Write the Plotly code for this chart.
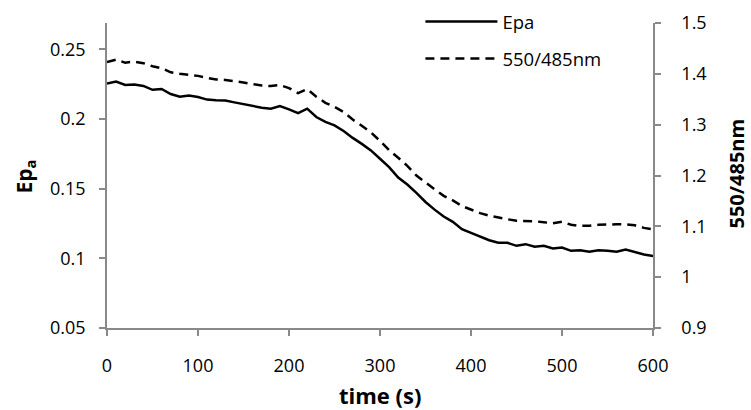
import plotly.graph_objects as go

time_s = list(range(0, 610, 10))
epa = [0.2256, 0.2270, 0.2245, 0.2248, 0.2238, 0.2210, 0.2216, 0.2180, 0.2160, 0.2170,
       0.2158, 0.2140, 0.2135, 0.2133, 0.2120, 0.2107, 0.2095, 0.2082, 0.2075, 0.2094,
       0.2070, 0.2043, 0.2075, 0.2015, 0.1980, 0.1955, 0.1915, 0.1865, 0.1822, 0.1775,
       0.1715, 0.1655, 0.1580, 0.1530, 0.1470, 0.1405, 0.1350, 0.1300, 0.1262, 0.1210,
       0.1183, 0.1158, 0.1130, 0.1112, 0.1112, 0.1090, 0.1102, 0.1083, 0.1090, 0.1071,
       0.1078, 0.1054, 0.1059, 0.1047, 0.1059, 0.1055, 0.1047, 0.1064, 0.1045, 0.1028,
       0.1016]
ratio = [1.423, 1.428, 1.422, 1.424, 1.421, 1.415, 1.411, 1.403, 1.400, 1.398,
         1.396, 1.392, 1.389, 1.388, 1.386, 1.383, 1.380, 1.377, 1.376, 1.378,
         1.372, 1.362, 1.370, 1.355, 1.343, 1.335, 1.325, 1.310, 1.298, 1.285,
         1.268, 1.250, 1.235, 1.219, 1.200, 1.186, 1.173, 1.160, 1.151, 1.140,
         1.133, 1.126, 1.121, 1.117, 1.114, 1.111, 1.111, 1.110, 1.108, 1.106,
         1.109, 1.103, 1.101, 1.101, 1.103, 1.104, 1.104, 1.104, 1.102, 1.097,
         1.094]

FONT = "Open Sans"
AX = "#898989"
TITLE_SIZE = 21

fig = go.Figure()
fig.add_trace(go.Scatter(x=time_s, y=epa, mode="lines", name="Epa",
                         line=dict(color="black", width=2.5), legendgroup="a"))
fig.add_trace(go.Scatter(x=time_s, y=ratio, mode="lines", name="550/485nm", yaxis="y2",
                         line=dict(color="black", width=2.5, dash="9px,6px"), legendgroup="b"))

axis_common = dict(showgrid=False, zeroline=False, showline=True, linecolor=AX, linewidth=1.5,
                   ticks="outside", ticklen=6, tickcolor=AX, tickwidth=1.5)

fig.update_layout(
    width=751, height=410,
    margin=dict(l=107, r=98, t=23, b=82, autoexpand=False),
    paper_bgcolor="white", plot_bgcolor="white",
    font=dict(family=FONT, size=18, color="black"),
    showlegend=True,
    legend=dict(x=0.574, y=1.066, xanchor="left", yanchor="top",
                bgcolor="rgba(0,0,0,0)", itemwidth=72, tracegroupgap=10,
                font=dict(size=18.5)),
    xaxis=dict(range=[0, 600], tick0=0, dtick=100, ticklabelstandoff=15, **axis_common),
    yaxis=dict(range=[0.05, 0.269], tick0=0.05, dtick=0.05, ticklabelstandoff=10, **axis_common),
    yaxis2=dict(range=[0.9, 1.5], tick0=0.9, dtick=0.1, overlaying="y", side="right",
                ticklabelstandoff=17, **axis_common),
    annotations=[
        dict(text="<b>Ep<sub>a</sub></b>", xref="paper", yref="paper", x=0, xshift=-83,
             y=0.5, yshift=-1, textangle=-90, showarrow=False, xanchor="center", yanchor="middle",
             font=dict(size=TITLE_SIZE)),
        dict(text="<b>550/485nm</b>", xref="paper", yref="paper", x=1, xshift=83,
             y=0.5, yshift=2, textangle=-90, showarrow=False, xanchor="center", yanchor="middle",
             font=dict(size=20)),
        dict(text="<b>time (s)</b>", xref="paper", yref="paper", x=0.5, y=0, yshift=-67,
             showarrow=False, xanchor="center", yanchor="middle", font=dict(size=22)),
    ],
)

fig.write_html("out.html")
